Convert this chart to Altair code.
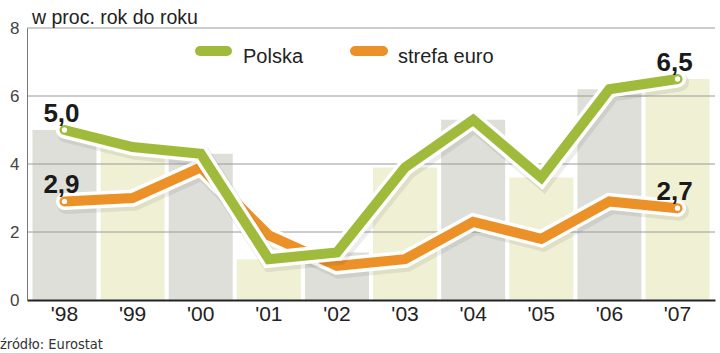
import altair as alt
import pandas as pd

years = ["'98", "'99", "'00", "'01", "'02", "'03", "'04", "'05", "'06", "'07"]
polska = [5.0, 4.5, 4.3, 1.2, 1.4, 3.9, 5.3, 3.6, 6.2, 6.5]
strefa = [2.9, 3.0, 3.9, 1.9, 1.0, 1.2, 2.3, 1.8, 2.9, 2.7]
series_names = ["Polska", "strefa euro"]
y_ticks = [0, 2, 4, 6, 8]
title_text = "w proc. rok do roku"
source_text = "źródło: Eurostat"

FONT = "Liberation Sans"
GREEN = "#a0bb3b"
ORANGE = "#ec9128"
GREY_BAR = "#dfdfd9"
YELLOW_BAR = "#f0f0d5"

df = pd.DataFrame({
    "rok": years * 2,
    "seria": [series_names[0]] * len(years) + [series_names[1]] * len(years),
    "wartosc": polska + strefa,
})
bars_df = pd.DataFrame({"rok": years, "wartosc": polska})
grid_df = pd.DataFrame({"v": y_ticks[1:]})

x_scale = alt.Scale(domain=years, paddingInner=0.06, paddingOuter=0.08)
y_scale = alt.Scale(domain=[0, 8], nice=False)

bars = alt.Chart(bars_df).transform_window(
    idx="row_number()"
).transform_calculate(
    par="datum.idx % 2 == 1 ? 'a' : 'b'"
).mark_bar().encode(
    x=alt.X("rok:N", scale=x_scale, sort=years,
            axis=alt.Axis(title=None, labelAngle=0, ticks=False, domainColor="#222",
                          domainWidth=2, labelFontSize=21, labelColor="#222",
                          labelPadding=3, labelFont=FONT, zindex=1)),
    y=alt.Y("wartosc:Q", scale=y_scale,
            axis=alt.Axis(title=None, values=y_ticks, ticks=False, grid=False,
                          domainColor="#777", domainWidth=1, labelFontSize=17,
                          labelColor="#444", labelPadding=8, labelFont=FONT,
                          labelFontWeight=300, zindex=1)),
    color=alt.Color("par:N", scale=alt.Scale(domain=["a", "b"], range=[GREY_BAR, YELLOW_BAR]),
                    legend=None),
)

grid = alt.Chart(grid_df).mark_rule(color="#9a9a9a", strokeWidth=1).encode(
    y=alt.Y("v:Q", scale=y_scale)
)

layers = [bars, grid]
colors = {series_names[0]: GREEN, series_names[1]: ORANGE}
for s in [series_names[1], series_names[0]]:
    base = alt.Chart(df).transform_filter(alt.datum.seria == s)
    enc = dict(
        x=alt.X("rok:N", scale=x_scale, sort=years, bandPosition=0.5),
        y=alt.Y("wartosc:Q", scale=y_scale),
    )
    shadow = base.mark_line(color="black", opacity=0.07, strokeWidth=19, xOffset=2, yOffset=3,
                            strokeCap="round", strokeJoin="miter", strokeMiterLimit=3).encode(**enc)
    halo = base.mark_line(color="white", strokeWidth=17, strokeCap="round",
                          strokeJoin="miter", strokeMiterLimit=3).encode(**enc)
    line = base.mark_line(color=colors[s], strokeWidth=10, strokeCap="round",
                          strokeJoin="miter", strokeMiterLimit=3).encode(**enc)
    ends = base.transform_filter(
        (alt.datum.rok == years[0]) | (alt.datum.rok == years[-1])
    )
    dots = ends.mark_point(filled=True, color="white", size=28, opacity=1).encode(**enc)
    labels = ends.transform_calculate(
        lab="replace(format(datum.wartosc, '.1f'), '.', ',')"
    ).mark_text(fontSize=26, fontWeight="bold", dy=-16, dx=-3, color="#1a1a1a",
                font=FONT).encode(text="lab:N", **enc)
    layers += [shadow, halo, line, dots, labels]

# legend
leg_pos = {series_names[0]: (173, 200, 216), series_names[1]: (328, 356, 371)}
for s in series_names:
    x1, x2, tx = leg_pos[s]
    ldf = pd.DataFrame({"seria": [s]})
    layers.append(alt.Chart(ldf).mark_rule(color=colors[s], strokeWidth=10, strokeCap="round").encode(
        x=alt.value(x1), x2=alt.value(x2), y=alt.value(23)))
    layers.append(alt.Chart(ldf).mark_text(align="left", fontSize=20, color="#222", font=FONT).encode(
        x=alt.value(tx), y=alt.value(29), text="seria:N"))

title = alt.Chart(pd.DataFrame({"t": [title_text]})).mark_text(
    align="left", fontSize=19.5, color="#222", font=FONT).encode(
    x=alt.value(5), y=alt.value(-10), text="t:N")
source = alt.Chart(pd.DataFrame({"t": [source_text]})).mark_text(
    align="left", fontSize=14.5, color="#333",
    font="Liberation Sans Narrow, DejaVu Sans Condensed, sans-serif").encode(
    x=alt.value(-27), y=alt.value(317), text="t:N")
layers += [title, source]

chart = alt.layer(*layers).properties(
    width=688, height=272,
    autosize=alt.AutoSizeParams(type="none"),
    padding={"left": 27, "top": 28, "right": 5, "bottom": 53},
    background="white",
).configure_view(strokeWidth=0)

chart.save("out.html", embed_options={"renderer": "svg", "actions": False})
